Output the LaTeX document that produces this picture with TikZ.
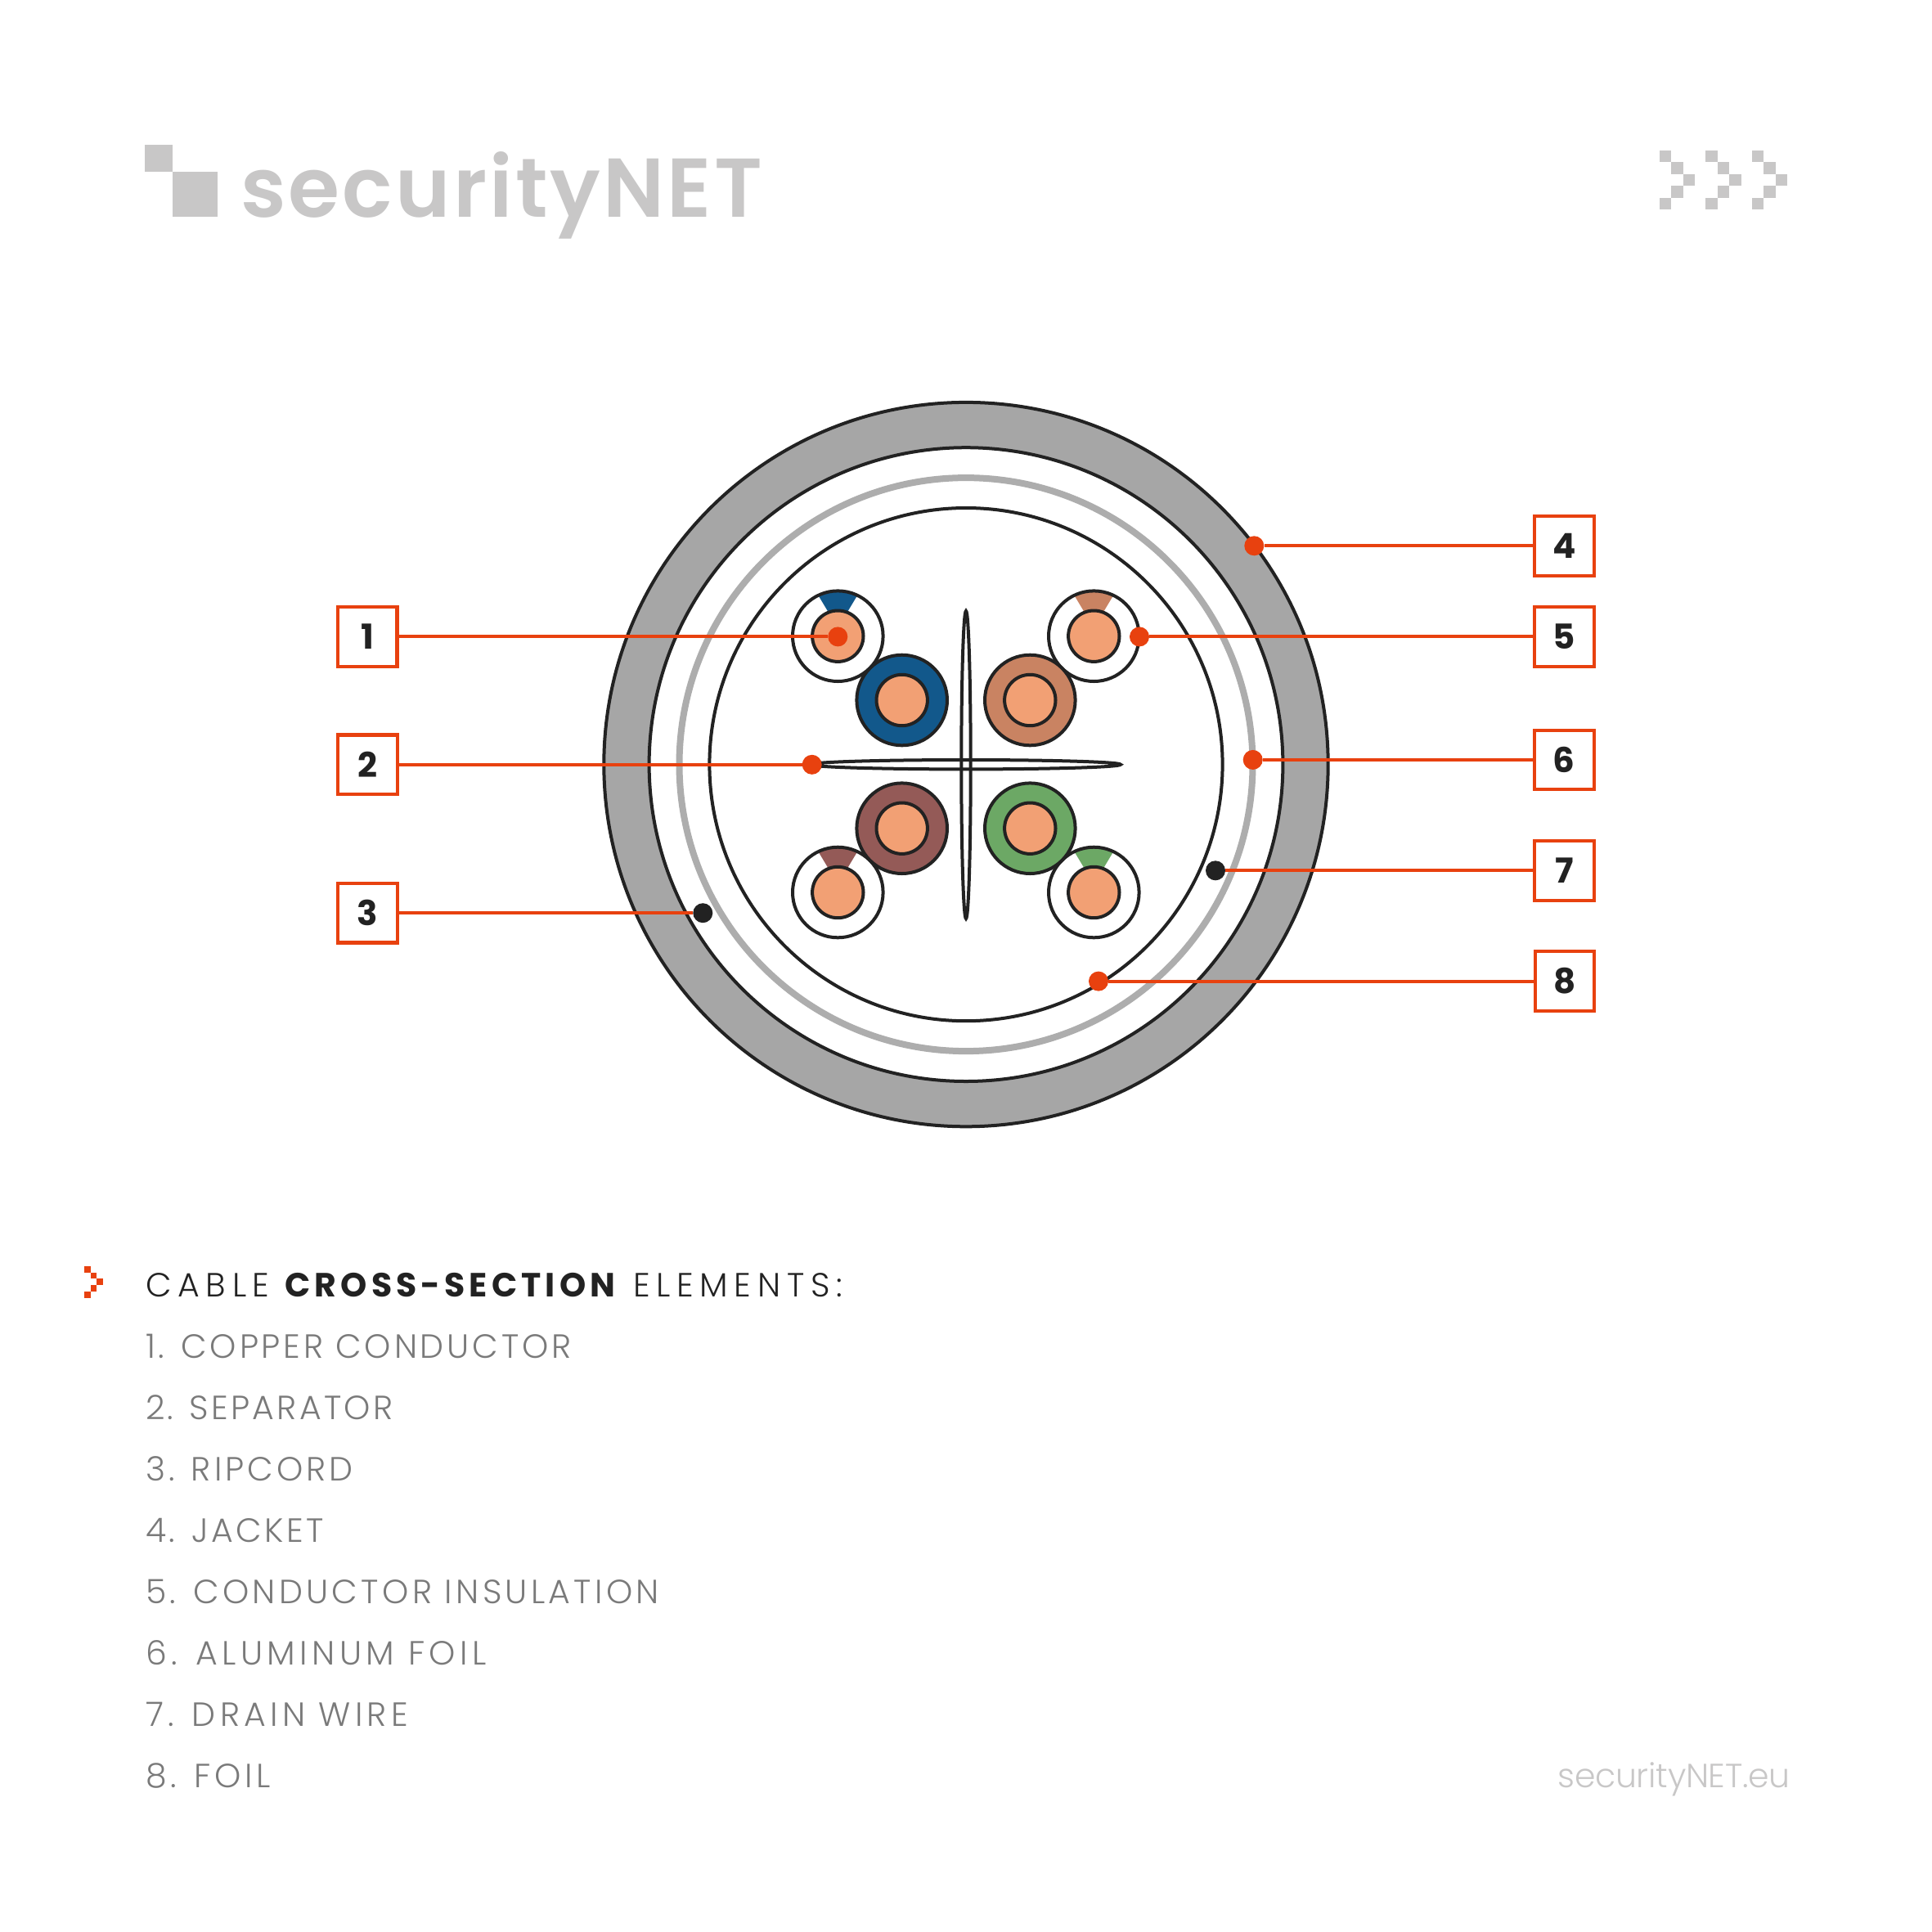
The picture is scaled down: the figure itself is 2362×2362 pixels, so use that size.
\documentclass[tikz,border=0pt]{standalone}
\usepackage{fontspec}
\setmainfont{Poppins}
\newfontfamily\itemf{Poppins Light}
\newfontfamily\headf[LetterSpace=18.7]{Poppins Light}
\newfontfamily\headb[LetterSpace=12.5]{Poppins Bold}
\newfontfamily\footf[LetterSpace=-0.6]{Poppins Light}
\newfontfamily\logof[LetterSpace=3.1]{Poppins SemiBold}
\newfontfamily\numf{Poppins Bold}
\definecolor{acc}{HTML}{E8410F}
\definecolor{ink}{HTML}{222222}
\definecolor{jacket}{HTML}{A6A6A6}
\definecolor{ringc}{HTML}{ADADAD}
\definecolor{copper}{HTML}{F2A074}
\definecolor{wblue}{HTML}{12588B}
\definecolor{wtan}{HTML}{C98362}
\definecolor{wred}{HTML}{945A57}
\definecolor{wgreen}{HTML}{6CA865}
\definecolor{itemc}{HTML}{7A7A7A}
\definecolor{logoc}{HTML}{C8C7C7}
\tikzset{
 numbox/.style={draw=acc,line width=4.1pt,fill=white,minimum size=72.6pt,inner sep=0pt,font=\numf\fontsize{42}{42}\selectfont,text=ink},
 reddot/.style={circle,fill=acc,minimum size=24pt,inner sep=0pt},
 blackdot/.style={circle,fill=ink,minimum size=24pt,inner sep=0pt},
 leader/.style={draw=acc,line width=4.1pt},
 wireline/.style={draw=ink,line width=4pt},
 listitem/.style={anchor=base west,inner sep=0pt,text=itemc,font=\itemf\fontsize{41}{41}\selectfont},
 logosq/.style={fill=logoc},
}
\newcommand{\pixchevron}[4]{% x y size colour
 \foreach \cc/\rr in {0/0,1/1,2/2,1/3,0/4}{\fill[#4] ({#1+\cc*#3},{#2+\rr*#3}) rectangle ++(#3,#3);}}
\newcommand{\solidwire}[3]{% x y colour
 \fill[#3] (#1,#2) circle (55.3);
 \draw[wireline] (#1,#2) circle (55.3);
 \draw[wireline,fill=copper] (#1,#2) circle (31.2);}
\newcommand{\stripewire}[3]{%
 \fill[white] (#1,#2) circle (55.3);
 \begin{scope}
 \clip (#1,#2) circle (55.3);
 \fill[#3] ($(#1,#2)+(-12,-30)$) -- ($(#1,#2)+(-30,-60)$) -- ($(#1,#2)+(30,-60)$) -- ($(#1,#2)+(12,-30)$) -- cycle;
 \end{scope}
 \draw[wireline] (#1,#2) circle (55.3);
 \draw[wireline,fill=copper] (#1,#2) circle (31.2);}
\newcommand{\dg}[1]{\raisebox{-1pt}{#1}}
\newcommand{\tr}[1]{\addfontfeature{LetterSpace=#1}}
\usetikzlibrary{calc}
\begin{document}
\begin{tikzpicture}[x=1pt,y=-1pt]
\useasboundingbox (0,0) rectangle (2362,2362);
\fill[white] (0,0) rectangle (2362,2362);
% logo
\fill[logosq] (177.3,176.7) rectangle (211,210);
\fill[logosq] (211,210) rectangle (265.7,265);
\node[anchor=base west,inner sep=0pt,text=logoc,font=\logof\fontsize{102}{102}\selectfont] (logo) at (294,265) {securityNET};
\pixchevron{2028.7}{184}{14.4}{logoc}
\pixchevron{2085.4}{184}{14.4}{logoc}
\pixchevron{2142}{184}{14.4}{logoc}
% cable
\draw[wireline,fill=jacket] (1181,934.6) circle (442.7);
\draw[wireline,fill=white] (1181,934.6) circle (387.4);
\draw[draw=ringc,line width=8pt] (1181,934.6) circle (350.5);
\draw[wireline] (1181,934.6) circle (313.6);
\stripewire{1024.3}{777.7}{wblue}
\stripewire{1337.3}{777.7}{wtan}
\stripewire{1024.3}{1091}{wred}
\stripewire{1337.3}{1091}{wgreen}
\solidwire{1102.7}{856}{wblue}
\solidwire{1259.3}{856}{wtan}
\solidwire{1102.7}{1012.7}{wred}
\solidwire{1259.3}{1012.7}{wgreen}
\draw[wireline] (1181,935) ellipse (5.7 and 188);
\draw[wireline] (1181,934.7) ellipse (189 and 5.7);
% callouts
\node[numbox] (b1) at (449.2,778.4) {\dg{1}};
\node[numbox] (b2) at (449.6,934.8) {\dg{2}};
\node[numbox] (b3) at (449.6,1116.2) {\dg{3}};
\node[numbox] (b4) at (1912.3,667.3) {\dg{4}};
\node[numbox] (b5) at (1912.3,778.4) {\dg{5}};
\node[numbox] (b6) at (1912.3,928.9) {\dg{6}};
\node[numbox] (b7) at (1912.3,1064.3) {\dg{7}};
\node[numbox] (b8) at (1913,1199.6) {\dg{8}};
\node[reddot] (d1) at (1024.3,778.4) {};
\node[reddot] (d2) at (992.7,934.8) {};
\node[blackdot] (d3) at (859.3,1116.2) {};
\node[reddot] (d4) at (1533.3,667.3) {};
\node[reddot] (d5) at (1393,778.4) {};
\node[reddot] (d6) at (1531.7,928.9) {};
\node[blackdot] (d7) at (1486,1064.3) {};
\node[reddot] (d8) at (1343,1199.6) {};
\foreach \i in {1,...,8}{\draw[leader] (b\i) -- (d\i);}
% legend
\pixchevron{103}{1548}{7.7}{acc}
\node[anchor=base west,inner sep=0pt,text=ink,font=\headf\fontsize{41}{41}\selectfont] (head) at (178,1585) {CABLE {\headb CROSS-SECTION}\hspace{3pt} ELEMENTS:};
\node[listitem] (i1) at (178,1660) {\tr{9.3}1. COPPER CONDUCTOR};
\node[listitem] (i2) at (178,1735) {\tr{8}2. SEPARATOR};
\node[listitem] (i3) at (178,1810) {\tr{9.8}3. RIPCORD};
\node[listitem] (i4) at (178,1885) {\tr{8.7}4. JACKET};
\node[listitem] (i5) at (178,1960) {\tr{10.6}5. CONDUCTOR INSULATION};
\node[listitem] (i6) at (178,2035) {\tr{13.4}6. ALUMINUM FOIL};
\node[listitem] (i7) at (178,2110) {\tr{12.9}7. DRAIN WIRE};
\node[listitem] (i8) at (178,2185) {\tr{11.6}8. FOIL};
\node[anchor=base east,inner sep=0pt,text=logoc,font=\footf\fontsize{41}{41}\selectfont] (foot) at (2189,2185) {securityNET.eu};
\end{tikzpicture}
\end{document}
